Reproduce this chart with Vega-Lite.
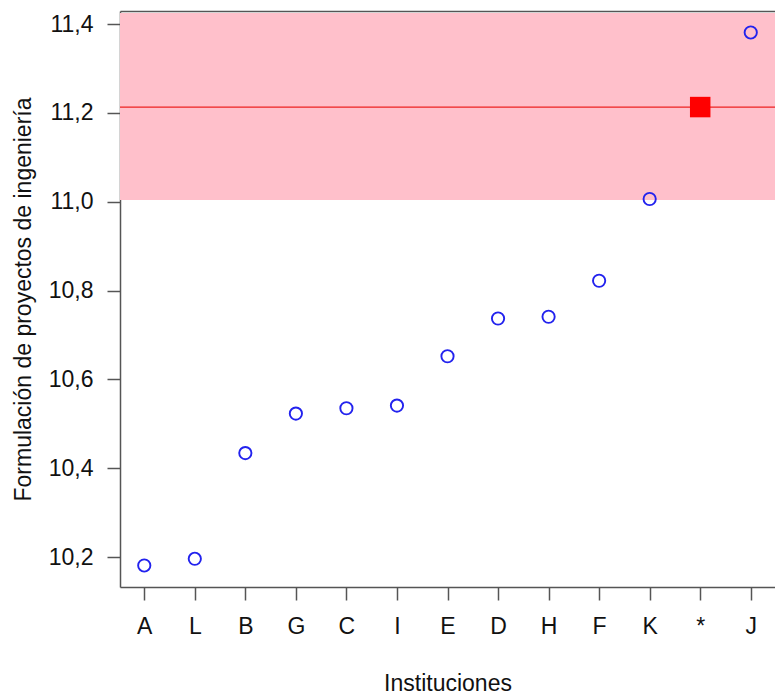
{
  "$schema": "https://vega.github.io/schema/vega-lite/v6.json",
  "width": 655,
  "height": 576,
  "autosize": {"type": "none"},
  "padding": {"left": 120, "top": 11, "right": 0, "bottom": 108},
  "background": "white",
  "config": {
    "view": {"stroke": null},
    "font": "Liberation Sans",
    "axis": {
      "labelFont": "Liberation Sans",
      "titleFont": "Liberation Sans",
      "labelFontSize": 23,
      "titleFontSize": 23,
      "titleFontWeight": "normal",
      "labelColor": "#111",
      "titleColor": "#111",
      "domainColor": "#555",
      "tickColor": "#555",
      "domainWidth": 1.5,
      "tickWidth": 1.5,
      "tickSize": 13,
      "grid": false
    }
  },
  "datasets": {
    "pts": [
      {"inst": "A", "value": 10.181, "type": "obs"},
      {"inst": "L", "value": 10.196, "type": "obs"},
      {"inst": "B", "value": 10.434, "type": "obs"},
      {"inst": "G", "value": 10.523, "type": "obs"},
      {"inst": "C", "value": 10.535, "type": "obs"},
      {"inst": "I", "value": 10.541, "type": "obs"},
      {"inst": "E", "value": 10.652, "type": "obs"},
      {"inst": "D", "value": 10.737, "type": "obs"},
      {"inst": "H", "value": 10.741, "type": "obs"},
      {"inst": "F", "value": 10.822, "type": "obs"},
      {"inst": "K", "value": 11.006, "type": "obs"},
      {"inst": "*", "value": 11.213, "type": "ref"},
      {"inst": "J", "value": 11.381, "type": "obs"}
    ],
    "band": [{"lo": 11.004, "hi": 11.425, "ref": 11.213}]
  },
  "layer": [
    {
      "data": {"name": "band"},
      "mark": {"type": "rect", "color": "#FFC0CB"},
      "encoding": {
        "y": {"field": "lo", "type": "quantitative"},
        "y2": {"field": "hi"}
      }
    },
    {
      "data": {"name": "band"},
      "mark": {"type": "rule", "color": "#EE2222", "strokeWidth": 1.2},
      "encoding": {
        "y": {"field": "ref", "type": "quantitative"}
      }
    },
    {
      "data": {"name": "pts"},
      "transform": [{"filter": "datum.type === 'obs'"}],
      "mark": {"type": "point", "shape": "circle", "filled": false, "stroke": "#2222ee", "strokeWidth": 1.9, "size": 150, "opacity": 1},
      "encoding": {
        "x": {
          "field": "inst", "type": "nominal",
          "scale": {"type": "point", "domain": ["A","L","B","G","C","I","E","D","H","F","K","*","J"], "padding": 0.48},
          "axis": {"labelAngle": 0, "labelPadding": 15, "title": "Instituciones", "titleY": 103, "titleBaseline": "alphabetic"}
        },
        "y": {
          "field": "value", "type": "quantitative",
          "scale": {"domain": [10.1325, 11.4293], "nice": false, "zero": false},
          "axis": {
            "values": [10.2, 10.4, 10.6, 10.8, 11.0, 11.2, 11.4],
            "labelExpr": "replace(format(datum.value, '.1f'), '.', ',')",
            "labelPadding": 14,
            "title": "Formulación de proyectos de ingeniería",
            "titleX": -97,
            "titleBaseline": "middle"
          }
        }
      }
    },
    {
      "data": {"name": "pts"},
      "transform": [{"filter": "datum.type === 'ref'"}],
      "mark": {"type": "point", "shape": "square", "filled": true, "color": "#FF0000", "size": 420, "opacity": 1},
      "encoding": {
        "x": {
          "field": "inst", "type": "nominal",
          "axis": {"orient": "top", "labels": false, "ticks": false, "title": null}
        },
        "y": {"field": "value", "type": "quantitative"}
      }
    }
  ],
  "resolve": {"axis": {"x": "independent"}}
}
